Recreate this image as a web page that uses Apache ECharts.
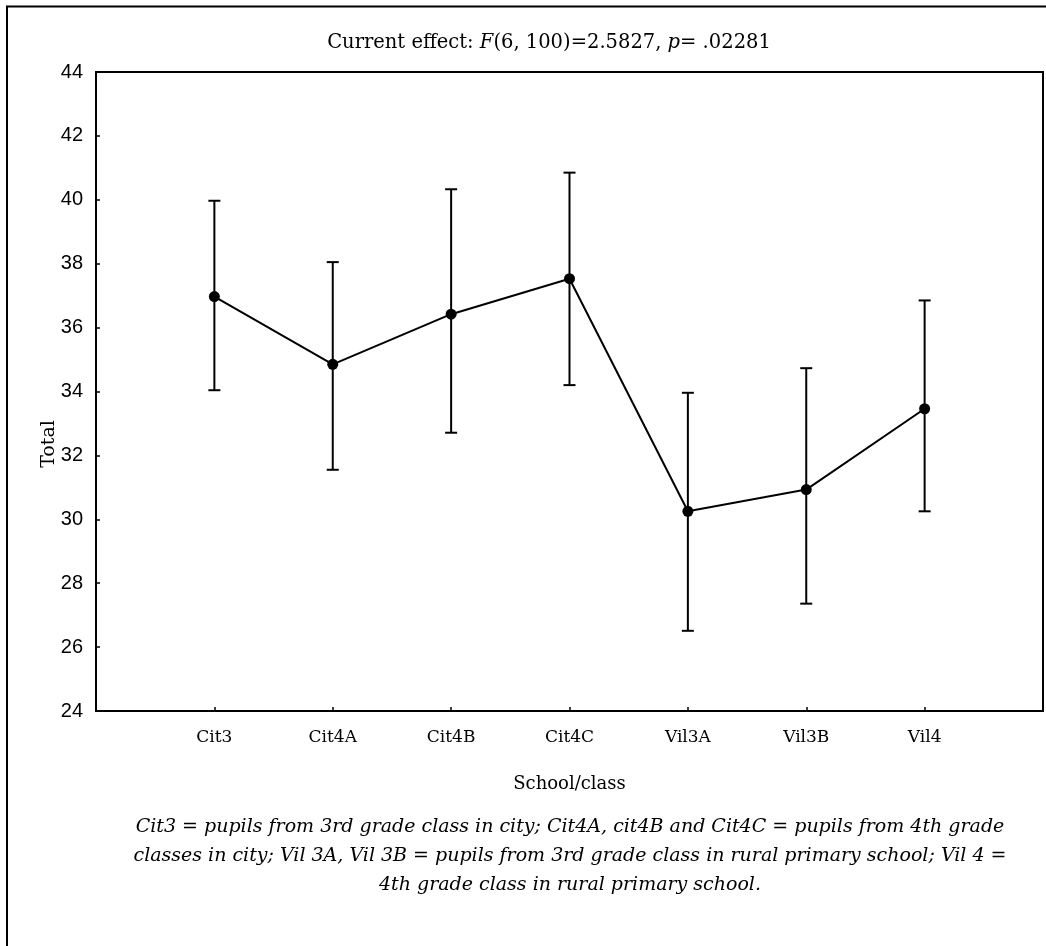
<!DOCTYPE html>
<html lang="en">
<head>
  <meta charset="UTF-8" />
  <title>Total by school/class</title>
  <script src="https://cdn.jsdelivr.net/npm/echarts@6/dist/echarts.min.js"></script>
  <style>
    html, body { margin: 0; padding: 0; background: #fff; }
  </style>
</head>
<body>
  <div id="main" style="width:1046px; height:946px;"></div>
  <script type="text/javascript">
    // categories on the x axis
    const categories = ['Cit3', 'Cit4A', 'Cit4B', 'Cit4C', 'Vil3A', 'Vil3B', 'Vil4'];
    // means and error bar ends
    const means = [36.97, 34.85, 36.42, 37.53, 30.25, 30.93, 33.46];
    const upper = [39.97, 38.05, 40.33, 40.85, 33.96, 34.73, 36.85];
    const lower = [34.04, 31.55, 32.71, 34.20, 26.51, 27.36, 30.25];
    // y ticks
    const yMin = 24, yMax = 44, yStep = 2;

    const serif = 'DejaVu Serif';
    const caption = [
      'Cit3 = pupils from 3rd grade class in city; Cit4A, cit4B and Cit4C = pupils from 4th grade',
      'classes in city; Vil 3A, Vil 3B = pupils from 3rd grade class in rural primary school; Vil 4 =',
      '4th grade class in rural primary school.'
    ];

    // x position of each category: 1..n on a 0..n+1 value axis
    const meanData = means.map((v, i) => [i + 1, v]);
    const barData = categories.map((c, i) => [i + 1, lower[i], upper[i]]);

    const chart = echarts.init(document.getElementById('main'));
    chart.setOption({
      animation: false,
      backgroundColor: '#fff',
      title: {
        text: 'Current effect: {i|F}(6, 100)=2.5827, {i|p}= .02281',
        left: 544,
        top: 28,
        textAlign: 'center',
        textStyle: {
          fontFamily: serif, fontSize: 19.5, fontWeight: 'normal', color: '#000',
          rich: { i: { fontFamily: serif, fontSize: 19.5, fontStyle: 'italic', color: '#000' } }
        }
      },
      grid: {
        left: 96, top: 72, right: 2, bottom: 235,
        show: true, borderColor: '#000', borderWidth: 2
      },
      xAxis: {
        type: 'value',
        min: 0, max: categories.length + 1, interval: 1,
        name: 'School/class',
        nameLocation: 'middle',
        nameGap: 64,
        nameTextStyle: { fontFamily: serif, fontSize: 18, color: '#000' },
        axisLine: { show: true, lineStyle: { color: '#000', width: 2 } },
        axisTick: { show: true, inside: true, length: 4, lineStyle: { color: '#000', width: 1.5 } },
        axisLabel: {
          margin: 18,
          fontFamily: serif, fontSize: 17, color: '#000',
          formatter: v => categories[v - 1] || ''
        },
        splitLine: { show: false }
      },
      yAxis: {
        type: 'value',
        min: yMin, max: yMax, interval: yStep,
        axisLine: { show: true, lineStyle: { color: '#000', width: 2 } },
        axisTick: { show: true, inside: true, length: 4, lineStyle: { color: '#000', width: 1.5 } },
        axisLabel: { margin: 13, fontFamily: 'Liberation Sans', fontSize: 20, color: '#000' },
        splitLine: { show: false }
      },
      graphic: [
        // outer frame (right and bottom edges lie off the page)
        {
          type: 'rect', silent: true,
          shape: { x: 7, y: 6.5, width: 1200, height: 1200 },
          style: { fill: 'none', stroke: '#000', lineWidth: 2 }
        },
        {
          type: 'text', x: 49, y: 444, rotation: Math.PI / 2,
          style: {
            text: 'Total', fontFamily: serif, fontSize: 19, fill: '#000',
            align: 'center', verticalAlign: 'middle'
          }
        },
        {
          type: 'text', x: 570, y: 813,
          style: {
            text: caption.join('\n'), fontFamily: serif, fontSize: 19, fontStyle: 'italic',
            fill: '#000', align: 'center', lineHeight: 29
          }
        }
      ],
      series: [
        {
          type: 'custom',
          data: barData,
          z: 2,
          renderItem: function (params, api) {
            const x = api.value(0);
            const lo = api.coord([x, api.value(1)]);
            const hi = api.coord([x, api.value(2)]);
            const half = 6;
            const st = { stroke: '#000', lineWidth: 2 };
            return {
              type: 'group',
              children: [
                { type: 'line', shape: { x1: lo[0], y1: lo[1], x2: hi[0], y2: hi[1] }, style: st },
                { type: 'line', shape: { x1: hi[0] - half, y1: hi[1], x2: hi[0] + half, y2: hi[1] }, style: st },
                { type: 'line', shape: { x1: lo[0] - half, y1: lo[1], x2: lo[0] + half, y2: lo[1] }, style: st }
              ]
            };
          }
        },
        {
          type: 'line',
          data: meanData,
          z: 3,
          symbol: 'circle',
          symbolSize: 11,
          lineStyle: { color: '#000', width: 2 },
          itemStyle: { color: '#000' }
        }
      ]
    });
  </script>
</body>
</html>
